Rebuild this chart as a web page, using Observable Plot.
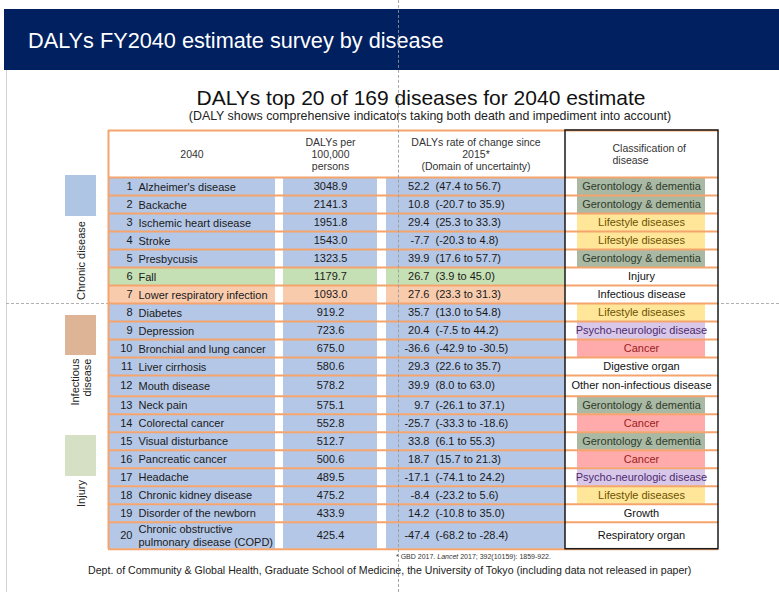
<!DOCTYPE html>
<html>
<head>
<meta charset="utf-8">
<script src="https://cdn.jsdelivr.net/npm/d3@7"></script>
<script src="https://cdn.jsdelivr.net/npm/@observablehq/plot@0.6"></script>
<style>
  html, body { margin: 0; padding: 0; background: #fff; }
  body { font-family: "Liberation Sans", Arial, sans-serif; }
  #page { position: relative; width: 779px; height: 592px; overflow: hidden; background: #fff; }
  .abs { position: absolute; white-space: nowrap; }
  #banner { left: 4px; top: 9px; width: 775px; height: 61px; background: #002060; }
  #bannerTitle { left: 28px; top: 30px; color: #fff; font-size: 21.7px; line-height: 21.7px; }
  #title { left: 0; width: 842px; text-align: center; top: 87px; font-size: 21px; line-height: 21px; color: #111; }
  #subtitle { left: 0; width: 860px; text-align: center; top: 110px; font-size: 12.4px; line-height: 12.4px; color: #222; }
  #chart { left: 0; top: 125px; }
  #footnote { left: 396px; top: 553px; font-size: 7px; line-height: 7px; color: #333; }
  #footer { left: 88px; top: 565px; font-size: 10.6px; line-height: 10.6px; color: #222; }
  #edge { left: 6px; top: 70px; width: 0; height: 522px; border-left: 1px solid #d4d4d4; }
  #guideH { left: 6px; top: 303px; width: 773px; height: 0; border-top: 1px dashed #b0b0b0; }
  #guideV { left: 398px; top: 0; width: 0; height: 592px; border-left: 1px dashed rgba(150,150,150,0.85); z-index: 5; }
</style>
</head>
<body>
<div id="page">
  <div id="edge" class="abs"></div>
  <div id="guideH" class="abs"></div>
  <div id="banner" class="abs"></div>
  <div id="bannerTitle" class="abs">DALYs FY2040 estimate survey by disease</div>
  <div id="title" class="abs">DALYs top 20 of 169 diseases for 2040 estimate</div>
  <div id="subtitle" class="abs">(DALY shows comprehensive indicators taking both death and impediment into account)</div>
  <div id="chart" class="abs"></div>
  <div id="footnote" class="abs">* GBD 2017. <i>Lancet</i> 2017; 392(10159): 1859-922.</div>
  <div id="footer" class="abs">Dept. of Community &amp; Global Health, Graduate School of Medicine, the University of Tokyo (including data not released in paper)</div>
  <div id="guideV" class="abs"></div>
</div>
<script>
// ---------------- data ----------------
const ranks = [1,2,3,4,5,6,7,8,9,10,11,12,13,14,15,16,17,18,19,20];
const diseases = [
  "Alzheimer's disease", "Backache", "Ischemic heart disease", "Stroke", "Presbycusis",
  "Fall", "Lower respiratory infection", "Diabetes", "Depression", "Bronchial and lung cancer",
  "Liver cirrhosis", "Mouth disease", "Neck pain", "Colorectal cancer", "Visual disturbance",
  "Pancreatic cancer", "Headache", "Chronic kidney disease", "Disorder of the newborn",
  "Chronic obstructive\npulmonary disease (COPD)"
];
const dalys = [3048.9, 2141.3, 1951.8, 1543.0, 1323.5, 1179.7, 1093.0, 919.2, 723.6, 675.0,
  580.6, 578.2, 575.1, 552.8, 512.7, 500.6, 489.5, 475.2, 433.9, 425.4];
const rateChange = [52.2, 10.8, 29.4, -7.7, 39.9, 26.7, 27.6, 35.7, 20.4, -36.6,
  29.3, 39.9, 9.7, -25.7, 33.8, 18.7, -17.1, -8.4, 14.2, -47.4];
const rateLow = [47.4, -20.7, 25.3, -20.3, 17.6, 3.9, 23.3, 13.0, -7.5, -42.9,
  22.6, 8.0, -26.1, -33.3, 6.1, 15.7, -74.1, -23.2, -10.8, -68.2];
const rateHigh = [56.7, 35.9, 33.3, 4.8, 57.7, 45.0, 31.3, 54.8, 44.2, -30.5,
  35.7, 63.0, 37.1, -18.6, 55.3, 21.3, 24.2, 5.6, 35.0, -28.4];
const rowGroup = ["Chronic","Chronic","Chronic","Chronic","Chronic","Injury","Infectious",
  "Chronic","Chronic","Chronic","Chronic","Chronic","Chronic","Chronic","Chronic",
  "Chronic","Chronic","Chronic","Chronic","Chronic"];
const classification = [
  "Gerontology & dementia", "Gerontology & dementia", "Lifestyle diseases", "Lifestyle diseases",
  "Gerontology & dementia", "Injury", "Infectious disease", "Lifestyle diseases",
  "Psycho-neurologic disease", "Cancer", "Digestive organ", "Other non-infectious disease",
  "Gerontology & dementia", "Cancer", "Gerontology & dementia", "Cancer",
  "Psycho-neurologic disease", "Lifestyle diseases", "Growth", "Respiratory organ"
];
const headerLabels = ["2040", "DALYs per\n100,000\npersons",
  "DALYs rate of change since\n2015*\n(Domain of uncertainty)", "Classification of\ndisease"];
const legendGroups = ["Chronic", "Infectious", "Injury"];
const legendLabels = ["Chronic disease", "Infectious\ndisease", "Injury"];

// ---------------- styles ----------------
const groupFill = {Chronic: "#B4C7E7", Injury: "#C5E0B4", Infectious: "#F8CBAD"};
const legendFill = {Chronic: "#AEC5E3", Infectious: "#DDB496", Injury: "#D5E0C4"};
const classStyle = {
  "Gerontology & dementia": {fill: "#A9B9A3", text: "#2f3a2c"},
  "Lifestyle diseases": {fill: "#FFE699", text: "#6B5300"},
  "Psycho-neurologic disease": {fill: "#D9C7EA", text: "#4A2B6E"},
  "Cancer": {fill: "#FFABAB", text: "#9B1C1C"}
};
const orange = "#F4A46C";
const font = "Liberation Sans, Arial, sans-serif";

// ---------------- layout ----------------
const unit = 18;                 // px per row unit
const H = 47 / unit;             // header height (units)
const extraRow = {12: 0.15};      // slightly taller row in the original
const rows = [];
let acc = 0;
ranks.forEach((r, i) => {
  const lines = diseases[i].split("\n").length;
  const h = (lines > 1 ? 1.5 : 1) + (extraRow[r] || 0);
  rows.push({rank: r, name: diseases[i], daly: dalys[i], rate: rateChange[i],
    lo: rateLow[i], hi: rateHigh[i], group: rowGroup[i], cls: classification[i],
    y1: acc, y2: acc + h, yc: acc + h / 2});
  acc += h;
});
const T = acc;
const fmt = v => v.toFixed(1);
const toU = px => (px - 177) / unit;   // page px -> row units

const X = {tableL: 108, tableR: 718, c1: [108, 275], c2: [283, 377], c3: [386, 565], c4: [565, 718],
  clsBox: [577, 705], rankR: 132, nameL: 138, dalyC: 330, rateR: 429, rangeL: 435, clsC: 641,
  hdr: [191.5, 330, 475.5, 612]};

const cells = rows.flatMap(r => [X.c1, X.c2, X.c3].map(([a, b]) => ({...r, x1: a, x2: b})));
const clsRows = rows.filter(r => classStyle[r.cls]);
const bounds = [-H, 0, ...rows.map(r => r.y2)];
const headers = headerLabels.map((t, i) => ({t, x: X.hdr[i], i}));
const legend = legendGroups.map((g, i) => ({g, label: legendLabels[i], i,
  y1: toU([175, 315, 435][i]), y2: toU([216, 355, 476][i]),
  ty: toU([260, 358, 493][i])}));

const marginTop = 5;
const height = Math.ceil(marginTop + unit * (H + T) + 12);
const marginBottom = height - marginTop - unit * (H + T);

const chart = Plot.plot({
  width: 779,
  height,
  marginLeft: 0, marginRight: 0, marginTop, marginBottom,
  x: {domain: [0, 779], axis: null},
  y: {domain: [-H, T], reverse: true, axis: null},
  color: {type: "identity"},
  style: {fontFamily: font, background: "transparent", overflow: "visible"},
  marks: [
    // legend
    Plot.rect(legend, {x1: 65, x2: 96, y1: "y1", y2: "y2", fill: d => legendFill[d.g]}),
    Plot.text(legend.filter(d => d.i !== 1), {x: 81, y: "ty", text: "label", rotate: -90, textAnchor: "middle",
      fontSize: 11, fill: "#222"}),
    Plot.text(legend.filter(d => d.i === 1), {x: 81, y: "ty", text: "label", rotate: -90, textAnchor: "end",
      fontSize: 11, lineHeight: 1.1, fill: "#222"}),
    // header background
    Plot.rect([0], {x1: X.tableL, x2: X.tableR, y1: -H, y2: 0, fill: "#fff"}),
    // row fills
    Plot.rect(cells, {x1: "x1", x2: "x2", y1: "y1", y2: "y2", fill: d => groupFill[d.group]}),
    Plot.rect(clsRows, {x1: X.clsBox[0], x2: X.clsBox[1], y1: "y1", y2: "y2", fill: d => classStyle[d.cls].fill}),
    // grid
    Plot.ruleY(bounds, {x1: X.tableL, x2: X.tableR, stroke: orange, strokeWidth: 2}),
    Plot.ruleX([X.tableL], {y1: -H, y2: T, stroke: orange, strokeWidth: 2}),
    Plot.rect([0], {x1: X.c4[0], x2: X.c4[1], y1: -H, y2: T, fill: "none", stroke: "#1a1a1a", strokeWidth: 1.5}),
    // header text
    Plot.text(headers.filter(d => d.i < 3), {x: "x", y: -H / 2, text: "t", textAnchor: "middle", fontSize: 10.5,
      lineHeight: 1.19, fill: "#333"}),
    Plot.text(headers.filter(d => d.i === 3), {x: "x", y: -H / 2, text: "t", textAnchor: "start", fontSize: 10.5,
      lineHeight: 1.19, fill: "#333"}),
    // body text
    Plot.text(rows, {x: X.rankR, y: "yc", text: d => String(d.rank), textAnchor: "end", fontSize: 11, fill: "#1a1a1a"}),
    Plot.text(rows, {x: X.nameL, y: "yc", text: "name", textAnchor: "start", fontSize: 11, lineHeight: 1.18, fill: "#1a1a1a"}),
    Plot.text(rows, {x: X.dalyC, y: "yc", text: d => fmt(d.daly), textAnchor: "middle", fontSize: 11, fill: "#1a1a1a"}),
    Plot.text(rows, {x: X.rateR, y: "yc", text: d => fmt(d.rate), textAnchor: "end", fontSize: 11, fill: "#1a1a1a"}),
    Plot.text(rows, {x: X.rangeL, y: "yc", text: d => `(${fmt(d.lo)} to ${fmt(d.hi)})`, textAnchor: "start", fontSize: 11, fill: "#1a1a1a"}),
    Plot.text(rows, {x: X.clsC, y: "yc", text: "cls", textAnchor: "middle", fontSize: 11,
      fill: d => classStyle[d.cls] ? classStyle[d.cls].text : "#111"})
  ]
});
document.getElementById("chart").appendChild(chart);
</script>
</body>
</html>
